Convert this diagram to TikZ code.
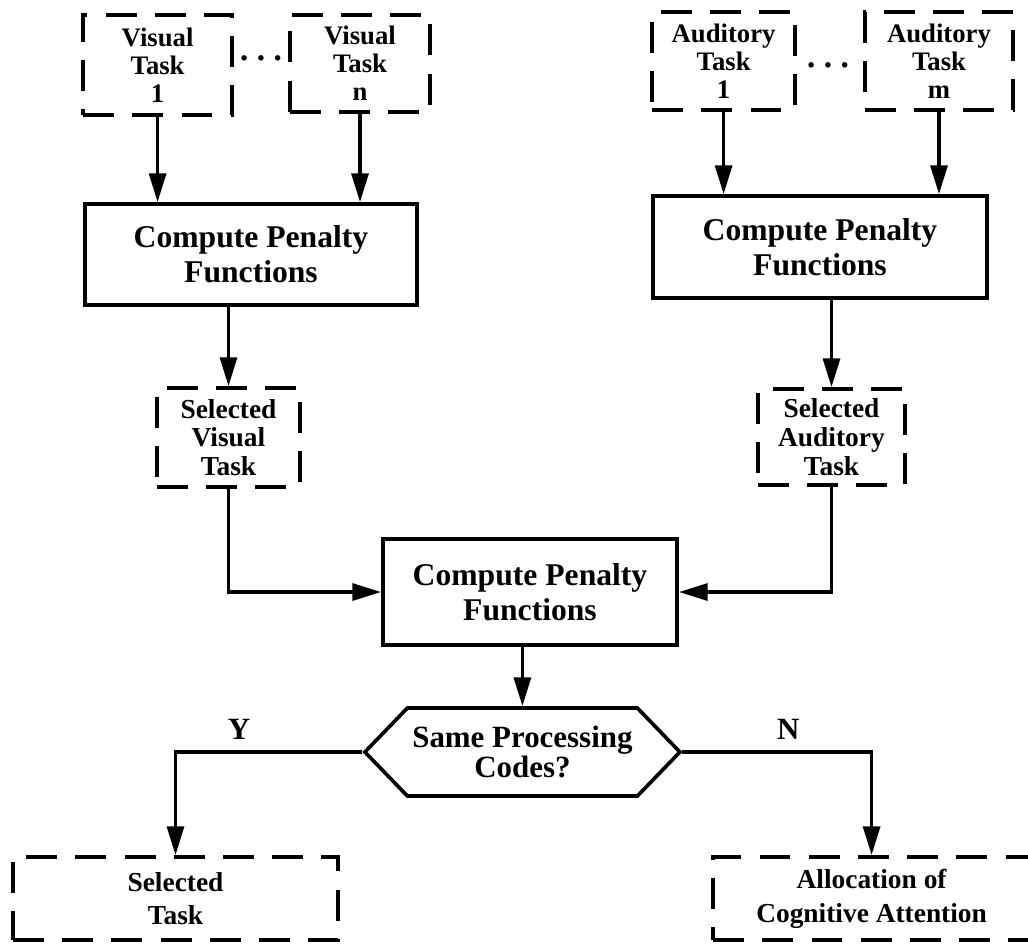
\documentclass[tikz,border=0pt]{standalone}
\usepackage{fontspec}
\setmainfont{Liberation Serif}
\usepackage{tikz}
\usetikzlibrary{arrows.meta}
\usetikzlibrary{shapes.symbols}
\usetikzlibrary{positioning}

\begin{document}
\begin{tikzpicture}[
  line width=2.6pt,
  >={Triangle[length=0.72cm,width=0.42cm]},
  font=\bfseries
]
\tikzset{
    taskbox/.style = {rectangle,draw=black,dash pattern=on 22pt off 13pt,align=center,inner sep=0pt,font=\bfseries\fontsize{19}{20}\selectfont},
    penaltybox/.style = {rectangle,draw=black,align=center,inner sep=0pt,font=\bfseries\fontsize{22.5}{25}\selectfont},
    resultbox/.style = {taskbox,font=\bfseries\fontsize{19.5}{24}\selectfont},
    decisionnode/.style = {signal,signal to=west and east,signal pointer angle=92,draw=black,align=center,inner sep=0pt,font=\bfseries\fontsize{22}{21}\selectfont},
    dotsnode/.style = {inner sep=0pt,font=\bfseries\fontsize{24}{24}\selectfont},
    flowarrow/.style = {->},
    branchlabel/.style = {draw=none,font=\bfseries\fontsize{22}{22}\selectfont}
}
\useasboundingbox (0,0) rectangle (25.7,-23.575);

\node[taskbox,minimum width=3.725cm,minimum height=2.5cm] (vis1) at (3.94,-1.625) {Visual\\Task\\1};
\node[taskbox,minimum width=3.5cm,minimum height=2.43cm] (visn) at (9.0,-1.59) {Visual\\Task\\n};
\node[taskbox,minimum width=3.575cm,minimum height=2.45cm] (aud1) at (18.09,-1.525) {Auditory\\Task\\1};
\node[taskbox,minimum width=3.7cm,minimum height=2.45cm] (audm) at (23.475,-1.525) {Auditory\\Task\\m};
\node[dotsnode] (dotsvis) at (6.525,-1.575) {·\,·\,·};
\node[dotsnode] (dotsaud) at (20.7,-1.73) {·\,·\,·};

\node[penaltybox,minimum width=8.3cm,minimum height=2.525cm] (penvis) at (6.275,-6.3625) {Compute Penalty\\Functions};
\node[penaltybox,minimum width=8.35cm,minimum height=2.55cm] (penaud) at (20.5,-6.175) {Compute Penalty\\Functions};

\node[taskbox,font=\bfseries\fontsize{19.5}{20.5}\selectfont,minimum width=3.575cm,minimum height=2.475cm] (selvis) at (5.7125,-10.9375) {Selected\\Visual\\Task};
\node[taskbox,font=\bfseries\fontsize{19.5}{20.5}\selectfont,minimum width=3.675cm,minimum height=2.4cm] (selaud) at (20.7875,-10.925) {Selected\\Auditory\\Task};

\node[penaltybox,minimum width=7.35cm,minimum height=2.65cm] (penall) at (13.25,-14.8) {Compute Penalty\\Functions};
\node[decisionnode,minimum width=7.875cm,minimum height=2.2cm] (samecode) at (13.06,-18.8) {Same Processing\\Codes?};

\node[resultbox,minimum width=8.125cm,minimum height=2.075cm] (seltask) at (4.3875,-22.4625) {Selected\\Task};
\node[resultbox,minimum width=7.925cm,minimum height=2.075cm] (alloc) at (21.79,-22.4625) {Allocation of\\Cognitive Attention};

\draw[flowarrow] (vis1.south) -- (vis1.south |- penvis.north);
\draw[flowarrow] (visn.south) -- (visn.south |- penvis.north);
\draw[flowarrow] (aud1.south) -- (aud1.south |- penaud.north);
\draw[flowarrow] (audm.south) -- (audm.south |- penaud.north);
\draw[flowarrow] (selvis.north |- penvis.south) -- (selvis.north);
\draw[flowarrow] (selaud.north |- penaud.south) -- (selaud.north);
\draw[flowarrow] (selvis.south) |- (penall.west);
\draw[flowarrow] (selaud.south) |- (penall.east);
\draw[flowarrow] (samecode.north |- penall.south) -- (samecode.north);
\draw[flowarrow] (samecode.west) -| (seltask.north) node[branchlabel,pos=0.33,above=4pt] (yes) {Y};
\draw[flowarrow] (samecode.east) -| (alloc.north) node[branchlabel,pos=0.28,above=4pt] (no) {N};
\end{tikzpicture}
\end{document}
